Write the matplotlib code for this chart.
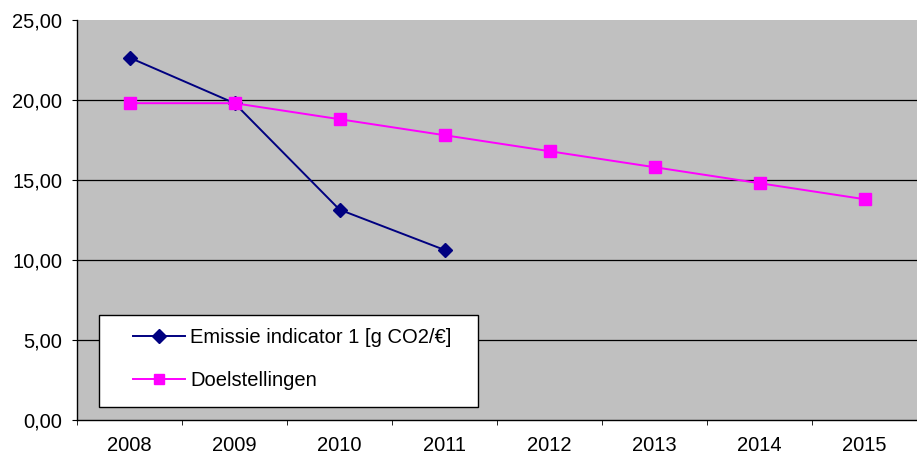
import numpy as np
import matplotlib
matplotlib.use("Agg")
import matplotlib.pyplot as plt
from matplotlib.ticker import FuncFormatter, FixedLocator
from matplotlib.patches import Rectangle

plt.rcParams['font.family'] = ['Liberation Sans', 'DejaVu Sans']

years = ["2008", "2009", "2010", "2011", "2012", "2013", "2014", "2015"]
emissie = [22.65, 19.8, 13.15, 10.63]
doel = [19.8, 19.8, 18.8, 17.8, 16.8, 15.8, 14.8, 13.8]

fig = plt.figure(figsize=(9.17, 4.54), dpi=100)
ax = fig.add_axes([77 / 917, 1 - 420 / 454, 1 - 77 / 917, 400 / 454])
ax.set_facecolor("#c0c0c0")

x = np.arange(len(years))
ax.plot(x[:len(emissie)], emissie, color="#000080", marker="D", markersize=7.5,
        linewidth=1.4, label="Emissie indicator 1 [g CO2/€]", zorder=3)
ax.plot(x, doel, color="#ff00ff", marker="s", markersize=8,
        linewidth=1.4, label="Doelstellingen", zorder=3)

ax.set_xlim(-0.5, len(years) - 0.5)
ax.set_ylim(0, 25)
ax.set_yticks(np.arange(0, 26, 5))
ax.yaxis.set_major_formatter(FuncFormatter(lambda v, p: f"{v:.2f}".replace(".", ",")))
for v in np.arange(5, 25, 5):
    ax.axhline(v, color="black", linewidth=0.9, zorder=1)

ax.set_xticks(x)
ax.set_xticklabels(years)
ax.xaxis.set_minor_locator(FixedLocator(np.arange(-0.5, len(years), 1)))
ax.tick_params(axis="x", which="major", length=0, pad=11.5, labelsize=14.5)
ax.tick_params(axis="x", which="minor", length=3.6, direction="out", color="black")
ax.tick_params(axis="y", length=3.6, direction="out", labelsize=14.5, pad=7)

for s in ["top", "right"]:
    ax.spines[s].set_visible(False)
for s in ["left", "bottom"]:
    ax.spines[s].set_color("black")
    ax.spines[s].set_linewidth(1.0)

# legend box
ax.add_patch(Rectangle((22 / 840, 13 / 400), 379 / 840, 92 / 400, transform=ax.transAxes,
                       facecolor="white", edgecolor="black", linewidth=1.0, zorder=4))
leg = ax.legend(loc="center left", bbox_to_anchor=(56 / 840, 61 / 400),
                fontsize=14.5, frameon=False, borderpad=0, labelspacing=1.2,
                handlelength=2.6, handletextpad=0.25, borderaxespad=0, markerscale=0.9)
leg.set_zorder(5)

fig.savefig("out.png", dpi=100)
